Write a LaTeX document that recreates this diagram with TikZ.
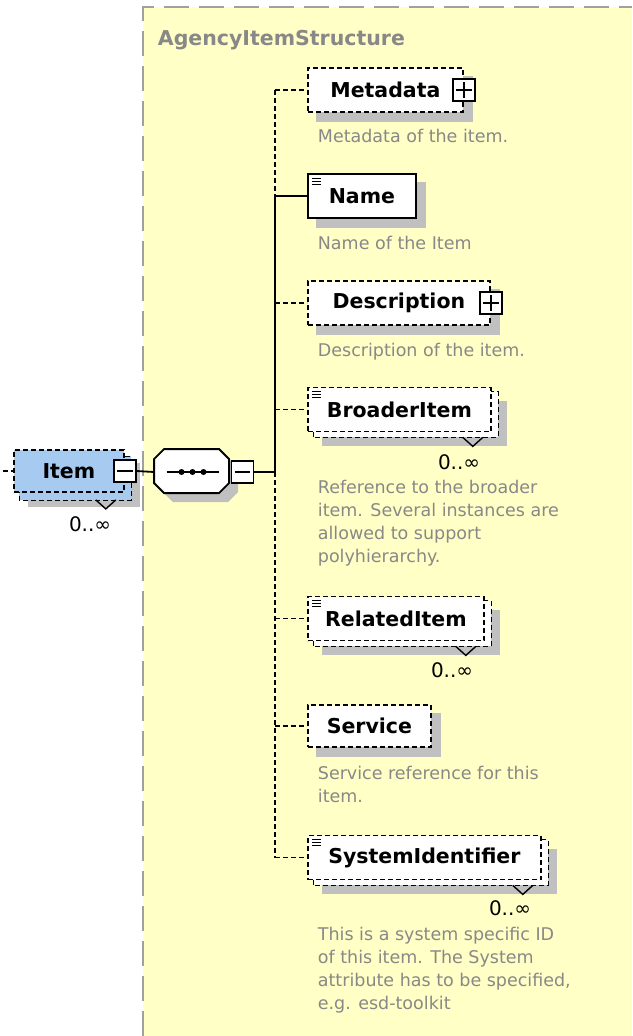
\documentclass[tikz,border=0pt]{standalone}
\usepackage{fontspec}
\setmainfont{DejaVu Sans}
\usetikzlibrary{backgrounds}

\definecolor{structyellow}{HTML}{FFFFC6}
\definecolor{structgray}{HTML}{A0A0A0}
\definecolor{docgray}{HTML}{888888}
\definecolor{shadegray}{HTML}{C0C0C0}
\definecolor{selblue}{HTML}{A6CAF0}

\tikzset{
  optional/.style={dash pattern=on 5pt off 3pt},
  elem/.style={draw, fill=white, line width=1.8pt, anchor=west, minimum height=44pt,
    inner sep=0pt, font={\fontsize{20.5}{24}\selectfont\bfseries}},
  toggle/.style={draw, fill=white, line width=1.4pt, minimum size=22pt, inner sep=0pt},
  doc/.style={anchor=base west, inner sep=0pt, align=left, text=docgray,
    font={\fontsize{17.5}{23}\selectfont}},
  occurs/.style={anchor=base east, inner sep=0pt, font={\fontsize{20}{24}\selectfont}},
  seqbox/.style={minimum width=75pt, minimum height=44pt, inner sep=0pt}
}

\begin{document}
\begin{tikzpicture}[x=1pt,y=-1pt,line width=1.8pt]
    \useasboundingbox (0,0) rectangle (632,1036);

    \node[anchor=base west, inner sep=0pt, text=docgray, font={\fontsize{20.5}{24}\selectfont\bfseries}] (title) at (157,45) {AgencyItemStructure};

    % the element and its sequence
    \node[elem, optional, fill=selblue, minimum width=110pt, minimum height=42pt] (item) at (13,471) {Item\hspace{18pt}};
    \node[toggle] (itemminus) at (item.east) {};
    \node[seqbox] (seq) at (192.5,472) {};
    \node[toggle, anchor=west] (seqminus) at (seq.east) {};

    % children
    \node[elem, optional, minimum width=155pt] (meta) at (307,90) {Metadata\hspace{6pt}};
    \node[toggle] (metaplus) at (meta.east) {};
    \node[elem, minimum width=108pt] (name) at (307,196) {Name};
    \node[elem, optional, minimum width=182pt] (desc) at (307,303) {Description\hspace{10pt}};
    \node[toggle] (descplus) at (desc.east) {};
    \node[elem, optional, minimum width=183pt] (broader) at (307,409.5) {BroaderItem};
    \node[elem, optional, minimum width=176pt] (related) at (307,618.5) {RelatedItem};
    \node[elem, optional, minimum width=123pt, minimum height=42pt] (service) at (307,726) {Service};
    \node[elem, optional, minimum width=233pt] (sysid) at (307,857.5) {SystemIdentifier};

    \node[doc] (metadoc) at (317,142) {Metadata of the item.};
    \node[doc] (namedoc) at (317,249) {Name of the Item};
    \node[doc] (descdoc) at (317,356) {Description of the item.};
    \node[doc] (broaderdoc) at (317,562) {Reference to the broader\\item. Several instances are\\allowed to support\\polyhierarchy.};
    \node[doc] (servicedoc) at (317,802) {Service reference for this\\item.};
    \node[doc] (siddoc) at (317,1009) {This is a system specific ID\\of this item. The System\\attribute has to be specified,\\e.g. esd-toolkit};

    \node[occurs] (itemocc) at (112,531) {0..∞};
    \node[occurs] (broaderocc) at (481,469) {0..∞};
    \node[occurs] (relatedocc) at (474,677) {0..∞};
    \node[occurs] (sidocc) at (532,915) {0..∞};

    % sequence compositor
    \draw[fill=white] (seq.north west) ++(10,0) -- ++(55,0) -- ++(10,10) -- ++(0,24) -- ++(-10,10)
        -- ++(-55,0) -- ++(-10,-10) -- ++(0,-24) -- cycle;
    \draw ([xshift=-26pt]seq.center) -- ([xshift=26pt]seq.center);
    \foreach \dx in {-11,0,11}
        \fill ([xshift=\dx pt]seq.center) circle (3pt);

    % icons
    \foreach \n in {name,broader,related,sysid}
        \foreach \dy in {5,8,11}
            \draw[line width=1pt] ([shift={(5,\dy)}]\n.north west) -- ++(9,0);
    \foreach \t in {itemminus,seqminus,metaplus,descplus}
        \draw[line width=1.4pt] ([xshift=4pt]\t.west) -- ([xshift=-4pt]\t.east);
    \foreach \t in {metaplus,descplus}
        \draw[line width=1.4pt] ([yshift=-4pt]\t.north) -- ([yshift=4pt]\t.south);

    % connectors
    \coordinate (stub) at (3,471);
    \coordinate (bus) at (275,472);
    \draw[optional] (stub) -- (item.west);
    \draw (itemminus.east) -- (seq.west);
    \draw (seqminus.east) -- (bus);
    \draw[optional] (bus |- meta.west) -- (meta.west);
    \draw (bus |- name.west) -- (name.west);
    \foreach \n in {desc,broader,related,service,sysid}
        \draw[optional] (bus |- \n.west) -- (\n.west);
    \draw[optional] (bus |- meta.west) -- (bus |- name.west);
    \draw (bus |- name.west) -- (bus);
    \draw[optional] (bus) -- (bus |- sysid.west);

    \begin{pgfonlayer}{background}
        \fill[structyellow] (143,7) rectangle (632,1036);
        \draw[structgray, line width=1.8pt, dash pattern=on 25pt off 10pt] (143,1036) -- (143,7) -- (632,7);
        % shadows
        \foreach \n in {meta,name,desc,service}
            \fill[shadegray] ([shift={(9,9)}]\n.north west) rectangle ([shift={(9,9)}]\n.south east);
        \foreach \n in {item,broader,related,sysid}
            \fill[shadegray] ([shift={(15,14)}]\n.north west) rectangle ([shift={(15,14)}]\n.south east);
        \fill[shadegray] ([shift={(9,9)}]seq.north west) ++(10,0) -- ++(55,0) -- ++(10,10) -- ++(0,24)
            -- ++(-10,10) -- ++(-55,0) -- ++(-10,-10) -- ++(0,-24) -- cycle;
        % repeated copies
        \draw[optional, fill=selblue] ([shift={(6,7)}]item.north west) rectangle ([shift={(6,7)}]item.south east);
        \draw[line width=1.4pt] ([shift={(-29,7)}]item.south east) -- ([shift={(-19,16)}]item.south east) -- ([shift={(-9,7)}]item.south east);
        \foreach \n in {broader,related,sysid} {
            \draw[optional, fill=white] ([shift={(6,5)}]\n.north west) rectangle ([shift={(6,5)}]\n.south east);
            \draw[line width=1.4pt] ([shift={(-29,5)}]\n.south east) -- ([shift={(-19,14)}]\n.south east) -- ([shift={(-9,5)}]\n.south east);
        }
    \end{pgfonlayer}
\end{tikzpicture}
\end{document}
